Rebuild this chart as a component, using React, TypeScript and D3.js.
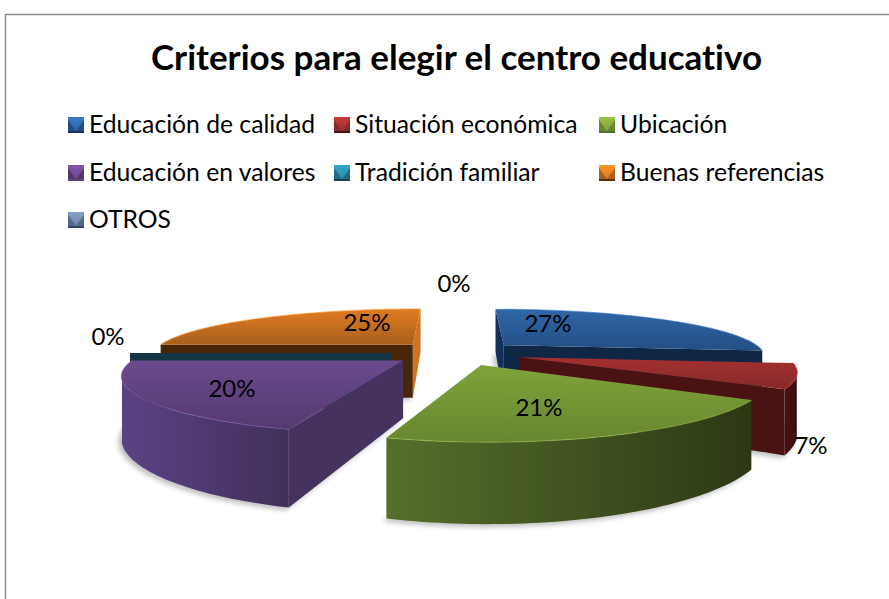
import React from "react";
import * as d3 from "d3";

const categories = ["Educación de calidad", "Situación económica", "Ubicación", "Educación en valores", "Tradición familiar", "Buenas referencias", "OTROS"];
const values = [26.8, 7.2, 20.6, 20.4, 0, 25, 0];
const percentLabels = ["27%", "7%", "21%", "20%", "0%", "25%", "0%"];
const titleText = "Criterios para elegir el centro educativo";

const baseColors = ["#2f66a6", "#a53030", "#7fa33a", "#6b4a8e", "#2a8ca8", "#e07b22", "#6f86a8"];
const topEndColors = ["#234f84", "#862a2a", "#68862f", "#54396f", "#1f6d82", "#a8601c", "#56698a"];
const wallLeft = ["#17355c", "#4a1313", "#566f2b", "#5b4285", "#17404c", "#5a2f0c", "#33445c"];
const wallRight = ["#10284a", "#380c0c", "#2c3815", "#41305a", "#143642", "#4a2608", "#2a384c"];
const startFace = ["#12305a", "#4a1212", "#3f5320", "#45325f", "#143642", "#4a2608", "#2a384c"];
const endFace = ["#0f2744", "#4a1212", "#3f5320", "#40305c", "#143642", "#d2741f", "#2a384c"];
const labelPos: [number, number][] = [[548, 324], [811, 446], [539, 408], [232, 389], [108, 337], [367, 323], [454, 284]];

const legendCols = [68, 334, 599];
const legendRows = [117, 165, 212];

const cx = 457, yh = 166, H = 187, D = 55.5, R = 262, E = 65, P = 0.001, Px = 0.00085;
const project = (X: number, Y: number, h: number): [number, number] => {
  const s = 1 / (1 + P * Y);
  const sx = 1 / (1 + Px * Y);
  return [cx + X * sx, yh + (H + h) * s];
};

const pieGen = d3.pie<number>().sort(null).value((d) => d).startAngle(0).endAngle(2 * Math.PI);
const arcs = pieGen(values);
const line = d3.line();

function sliceGeom(i: number) {
  const a = arcs[i];
  const mid = (a.startAngle + a.endAngle) / 2;
  const ex = E * Math.sin(mid), ey = E * Math.cos(mid);
  const angles = d3.range(0, 61).map((k) => a.startAngle + ((a.endAngle - a.startAngle) * k) / 60);
  const pt = (th: number, r: number, h: number) => project(ex + r * Math.sin(th), ey + r * Math.cos(th), h);
  const apexT = project(ex, ey, 0), apexB = project(ex, ey, D);
  const topPts = angles.map((t) => pt(t, R, 0));
  const botPts = angles.map((t) => pt(t, R, D));
  const f = 1 / P;
  const visible = angles.filter((t) => {
    const X = ex + R * Math.sin(t), Y = ey + R * Math.cos(t);
    return X * Math.sin(t) + (Y + f) * Math.cos(t) < 0;
  });
  const wallTop = visible.map((t) => pt(t, R, 0));
  const wallBot = visible.map((t) => pt(t, R, D)).reverse();
  const faceS = [apexT, pt(a.startAngle, R, 0), pt(a.startAngle, R, D), apexB] as [number, number][];
  const faceE = [apexT, pt(a.endAngle, R, 0), pt(a.endAngle, R, D), apexB] as [number, number][];
  const visS = ex * Math.cos(a.startAngle) - (ey + f) * Math.sin(a.startAngle) > 1e-6;
  const visE = -ex * Math.cos(a.endAngle) + (ey + f) * Math.sin(a.endAngle) > 1e-6;
  return { ex, ey, apexT, apexB, topPts, botPts, wallTop, wallBot, faceS, faceE, visS, visE };
}

const order = d3.range(values.length).sort((p, q) => sliceGeom(q).ey - sliceGeom(p).ey);

function Swatch({ i, x, y }: { i: number; x: number; y: number }) {
  return (
    <g>
      <rect x={x} y={y} width={16} height={16} fill={wallLeft[i]} />
      <rect x={x} y={y} width={16} height={14} fill={topEndColors[i]} />
      <path d={`M${x} ${y}H${x + 16}L${x + 16} ${y + 3}L${x + 8} ${y + 14}L${x} ${y + 3}Z`} fill={`url(#leg${i})`} />
    </g>
  );
}

export default function App() {
  const textFont = "Lato, 'Open Sans', sans-serif";
  return (
    <svg width={889} height={599} style={{ position: "fixed", left: 0, top: 0, background: "#fff", fontVariantLigatures: "none" }} fontFamily={textFont}>
      <defs>
        <filter id="blur" x="-10%" y="-20%" width="120%" height="140%">
          <feGaussianBlur stdDeviation={2.5} />
        </filter>
        {values.map((_, i) => {
          const g = sliceGeom(i);
          const xs = g.topPts.map((p) => p[0]);
          return (
            <React.Fragment key={i}>
              <linearGradient id={`top${i}`} x1="0" y1="0" x2="0" y2="1">
                <stop offset="0" stopColor={baseColors[i]} />
                <stop offset="1" stopColor={topEndColors[i]} />
              </linearGradient>
              <linearGradient id={`wall${i}`} gradientUnits="userSpaceOnUse" x1={d3.min(xs)} x2={d3.max(xs)} y1={0} y2={0}>
                <stop offset="0" stopColor={wallLeft[i]} />
                <stop offset="1" stopColor={wallRight[i]} />
              </linearGradient>
              <linearGradient id={`leg${i}`} x1="0" y1="0" x2="0" y2="1">
                <stop offset="0" stopColor={d3.color(baseColors[i])!.brighter(0.5).formatHex()} />
                <stop offset="1" stopColor={baseColors[i]} />
              </linearGradient>
            </React.Fragment>
          );
        })}
      </defs>

      <path d="M889 14.5H5.5V599" fill="none" stroke="#8c8c8c" strokeWidth={1.5} />

      <text x={456.5} y={70} textAnchor="middle" fontSize={35} fontWeight={700} fill="#000">{titleText}</text>

      {categories.map((c, i) => {
        const col = legendCols[i % 3], row = legendRows[Math.floor(i / 3)];
        return (
          <g key={c}>
            <Swatch i={i} x={col} y={row} />
            <text x={col + 21} y={row + 16} fontSize={24.7} fill="#000">{c}</text>
          </g>
        );
      })}

      <g filter="url(#blur)" opacity={0.3} transform="translate(-3,3)">
        {order.filter((i) => values[i] > 0).map((i) => {
          const g = sliceGeom(i);
          return <path key={i} d={line([g.apexB, ...g.botPts])! + "Z"} fill="#333" />;
        })}
      </g>

      {order.map((i) => {
        const g = sliceGeom(i);
        const c = line([g.apexT, ...g.topPts])! + "Z";
        return (
          <g key={i}>
            {g.visE && <path d={line(g.faceE)! + "Z"} fill={endFace[i]} />}
            {g.visS && <path d={line(g.faceS)! + "Z"} fill={startFace[i]} />}
            {g.wallTop.length > 1 && <path d={line([...g.wallTop, ...g.wallBot])! + "Z"} fill={`url(#wall${i})`} />}
            <path d={c} fill={`url(#top${i})`} />
            {values[i] > 0 && <path d={line(g.topPts)!} fill="none" stroke={d3.color(baseColors[i])!.brighter(0.5).formatHex()} strokeOpacity={0.55} strokeWidth={1.2} />}
          </g>
        );
      })}

      {percentLabels.map((t, i) => (
        <text key={i} x={labelPos[i][0]} y={labelPos[i][1]} dy="0.35em" textAnchor="middle" fontSize={24} fill="#000">{t}</text>
      ))}
    </svg>
  );
}
